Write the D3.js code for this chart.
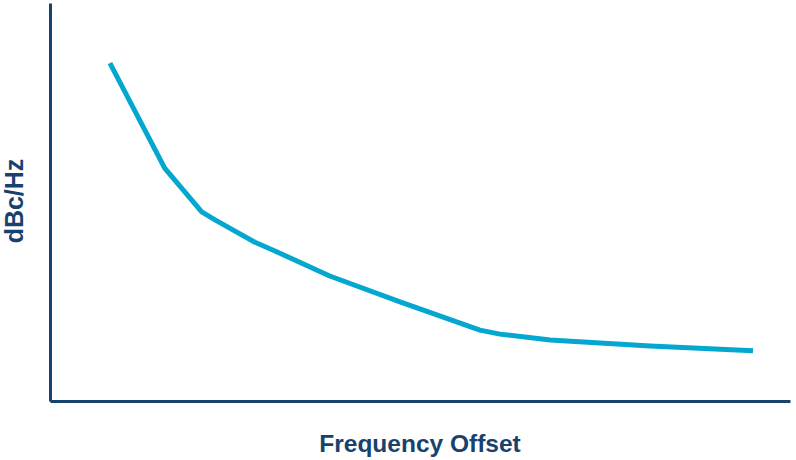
<!DOCTYPE html>
<html><head><meta charset="utf-8">
<script src="https://cdn.jsdelivr.net/npm/d3@7"></script>
<style>body{margin:0;background:#fff}svg{display:block}</style>
</head><body>
<svg id="c" width="796" height="460"></svg>
<script>
const offsets = [8.1, 15.5, 16.5, 20.5, 22.3, 27.7, 30.4, 37.8, 47.3, 58.1, 60.8, 67.6, 81.1, 95];
const levels  = [84.9, 58.5, 56.3, 47.5, 45.5, 39.9, 37.7, 31.4, 24.9, 17.8, 16.8, 15.3, 13.8, 12.6];
const xTitle = "Frequency Offset";
const yTitle = "dBc/Hz";

const svg = d3.select("#c");
const navy = "#17426d", cyan = "#04a7cf";
const x = d3.scaleLinear().domain([0, 100]).range([50, 790]);
const y = d3.scaleLinear().domain([0, 100]).range([401, 3]);

const pts = offsets.map((v, i) => [v, levels[i]]);
svg.append("path").datum(pts)
  .attr("fill", "none").attr("stroke", cyan).attr("stroke-width", 5)
  .attr("stroke-linejoin", "round")
  .attr("d", d3.line().x(d => x(d[0])).y(d => y(d[1])));

const xAxis = svg.append("g").attr("transform", `translate(0,${y(0)})`)
  .call(d3.axisBottom(x).tickValues([]).tickSizeOuter(0));
const yAxis = svg.append("g").attr("transform", `translate(${x(0)},0)`)
  .call(d3.axisLeft(y).tickValues([]).tickSizeOuter(0));
svg.selectAll(".domain").attr("stroke", navy).attr("stroke-width", 3);

svg.append("text").text(xTitle)
  .attr("x", 420).attr("y", 452).attr("text-anchor", "middle")
  .attr("font-family", "Liberation Sans, Arial, sans-serif").attr("font-weight", "bold")
  .attr("font-size", 24.5).attr("fill", navy);
svg.append("text").text(yTitle)
  .attr("transform", "translate(23,201) rotate(-90)").attr("text-anchor", "middle")
  .attr("font-family", "Liberation Sans, Arial, sans-serif").attr("font-weight", "bold")
  .attr("font-size", 25).attr("fill", navy);
</script>
</body></html>
